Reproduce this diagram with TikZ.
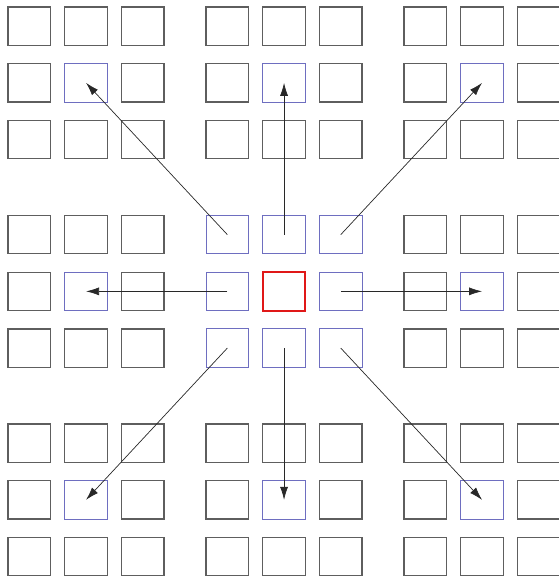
\documentclass[tikz,border=0pt]{standalone}
\usetikzlibrary{arrows.meta}
\definecolor{CellGray}{HTML}{5E5E5E}
\definecolor{CellBlue}{HTML}{6E6EC0}
\definecolor{CellRed}{HTML}{E01818}
\definecolor{MoveGray}{HTML}{282828}
\tikzset{
  kind0/.style={rectangle, draw=CellGray, line width=1.3pt, inner sep=0pt,
    minimum width=42.7pt, minimum height=38.3pt},
  kind1/.style={kind0, draw=CellBlue, line width=0.9pt},
  kind2/.style={kind0, draw=CellRed, line width=2pt},
  move/.style={-{Latex[length=13pt,width=8pt]}, draw=MoveGray, line width=0.7pt}
}
\begin{document}
\begin{tikzpicture}[x=1pt,y=-1pt]
		\useasboundingbox (0,0) rectangle (559,579);
		% 9x9 cells in 3x3 blocks
		\foreach \r in {0,...,8} {
			\foreach \c in {0,...,8} {
				\pgfmathsetmacro{\px}{29.35+198*int(\c/3)+56.7*mod(\c,3)}
				\pgfmathsetmacro{\py}{26.15+208.5*int(\r/3)+56.7*mod(\r,3)}
				\pgfmathtruncatemacro{\k}{(\r==4 && \c==4) ? 2 : (((abs(\r-4)<=1 && abs(\c-4)<=1) || (mod(\r,3)==1 && mod(\c,3)==1)) ? 1 : 0)}
				\node[kind\k] (s-\r-\c) at (\px,\py) {};
			}
		}
		
		% moves out of the centre block
		\foreach \dr/\dc in {-1/-1,-1/0,-1/1,0/-1,0/1,1/-1,1/0,1/1} {
			\pgfmathtruncatemacro{\ar}{4+\dr}
			\pgfmathtruncatemacro{\ac}{4+\dc}
			\pgfmathtruncatemacro{\br}{4+3*\dr}
			\pgfmathtruncatemacro{\bc}{4+3*\dc}
			\draw[move] (s-\ar-\ac.center) -- (s-\br-\bc.center);
		}
	\end{tikzpicture}
\end{document}
